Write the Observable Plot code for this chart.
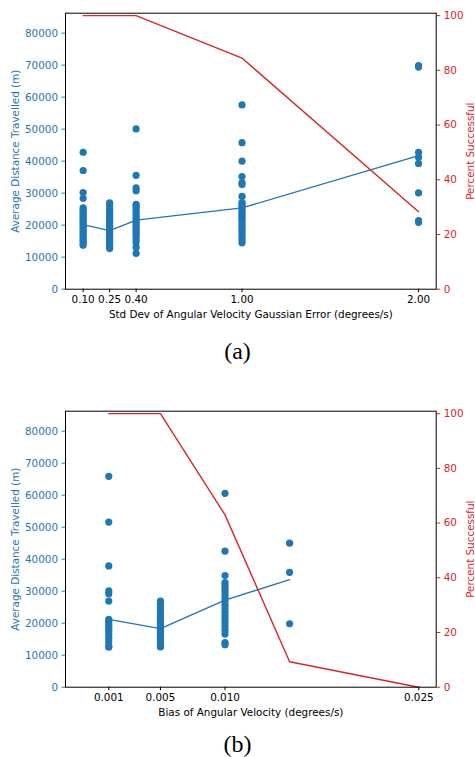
<!DOCTYPE html>
<html>
<head>
<meta charset="utf-8">
<script src="https://cdn.jsdelivr.net/npm/d3@7"></script>
<script src="https://cdn.jsdelivr.net/npm/@observablehq/plot@0.6"></script>
<style>
  html, body { margin: 0; padding: 0; background: #fff; }
  #wrap { position: relative; width: 475px; height: 757px; overflow: hidden; }
  .panel { position: absolute; left: 0; }
  .cap { position: absolute; left: 0; width: 475px; text-align: center;
         font-family: "Liberation Serif", "DejaVu Serif", serif; font-size: 24px; line-height: 18px; height: 18px; }
</style>
</head>
<body>
<div id="wrap">
  <div class="panel" id="pa" style="top:0px"></div>
  <div class="cap" style="top:342px">(a)</div>
  <div class="panel" id="pb" style="top:398px"></div>
  <div class="cap" style="top:735px">(b)</div>
</div>
<script>
// ---------- Panel (a): Std Dev of angular velocity Gaussian error ----------
const stdDevs = [0.10, 0.25, 0.40, 1.00, 2.00];
const stdDevTickLabels = ["0.10", "0.25", "0.40", "1.00", "2.00"];
const distA_010 = [42800, 37100, 30200, 28400, 25400, 24900, 24200, 23600, 23000, 22300, 21800, 21200, 20600, 20000, 19400, 18800, 18200, 17500, 16900, 16300, 15600, 15000, 14300, 13700];
const distA_025 = [27000, 26200, 25100, 24300, 23600, 22900, 22300, 21700, 21100, 20500, 19900, 19300, 18700, 18100, 17500, 16900, 16300, 15700, 15100, 14500, 13900, 13300, 12700];
const distA_040 = [50100, 35600, 31700, 30800, 26500, 25900, 25200, 24300, 23500, 22800, 22100, 21400, 20700, 20000, 19300, 18600, 17900, 17200, 16400, 15400, 14600, 13100, 11200];
const distA_100 = [57600, 45800, 40000, 35200, 33300, 32700, 29000, 27100, 26500, 25900, 25200, 24500, 23800, 23100, 22500, 21800, 21100, 20300, 19500, 18700, 17900, 17000, 16200, 15400, 14500];
const distA_200 = [69900, 69400, 42800, 41200, 39300, 30100, 21400, 20900];
const meanDistA = [20200, 18300, 21600, 25400, 41750];
const pctSuccessA = [100, 100, 100, 84.5, 28.3];

// ---------- Panel (b): Bias of angular velocity ----------
const biases = [0.001, 0.005, 0.010, 0.015, 0.025];
const biasTicks = [0.001, 0.005, 0.010, 0.025];
const distB_001 = [65900, 51600, 37900, 30100, 29200, 26900, 21200, 20500, 19800, 19000, 18200, 17400, 16500, 15300, 14200, 12900, 12500];
const distB_005 = [26900, 25900, 24900, 23900, 23000, 22100, 21300, 20500, 19700, 18900, 18100, 17300, 16500, 15700, 14900, 14100, 13300, 12600];
const distB_010 = [60600, 42500, 34900, 32700, 32000, 31200, 30300, 29400, 28500, 27600, 26700, 25600, 24500, 23400, 22300, 21200, 20100, 19000, 17800, 16600, 13900, 13300];
const distB_015 = [45000, 35900, 19800];
const meanDistB = [21200, 18300, 27200, 33600];
const pctSuccessB = [100, 100, 63, 9.3, 0];

const distTicks = [0, 10000, 20000, 30000, 40000, 50000, 60000, 70000, 80000];
const pctTicks = [0, 20, 40, 60, 80, 100];

const BLUE = "#1f77b4", RED = "#d62728";
const YMAX = 86250, PMAX = 100.9, K = YMAX / PMAX;
const FS = 10.4;

function panel({xDomain, xTicks, xFmt, xLabel, groups, meanX, means, pctX, pcts}) {
  const pts = [];
  groups.forEach(([x, arr]) => arr.forEach(v => pts.push({x, y: v})));
  const meanData = meanX.map((x, i) => ({x, y: means[i]}));
  const pctData = pctX.map((x, i) => ({x, p: pcts[i]}));
  return Plot.plot({
    width: 475, height: 330,
    marginLeft: 65, marginRight: 39.3, marginTop: 12.7, marginBottom: 41.3,
    style: {fontFamily: "DejaVu Sans, sans-serif", fontSize: FS + "px", background: "white", color: "black"},
    x: {domain: xDomain},
    y: {domain: [0, YMAX]},
    marks: [
      Plot.axisY(distTicks, {anchor: "left", tickFormat: "d", tickSize: 3.5, tickPadding: 4, color: BLUE, label: null}),
      Plot.axisY(pctTicks.map(p => p * K), {anchor: "right", tickSize: 3.5, tickPadding: 4, color: RED, label: null,
        tickFormat: d => String(Math.round(d / K))}),
      Plot.axisX(xTicks, {tickFormat: xFmt, tickSize: 3.5, tickPadding: 3, label: null, color: "black"}),
      Plot.dot(pts, {x: "x", y: "y", r: 3.6, fill: BLUE}),
      Plot.line(meanData, {x: "x", y: "y", stroke: BLUE, strokeWidth: 1.4}),
      Plot.line(pctData, {x: "x", y: d => d.p * K, stroke: RED, strokeWidth: 1.4}),
      Plot.frame({stroke: "#000", strokeWidth: 1}),
      Plot.text(["Average Distance Travelled (m)"], {frameAnchor: "left", dx: -50, rotate: -90,
        textAnchor: "middle", lineAnchor: "middle", fill: BLUE, fontSize: FS}),
      Plot.text(["Percent Successful"], {frameAnchor: "right", dx: 34, rotate: -90,
        textAnchor: "middle", lineAnchor: "middle", fill: RED, fontSize: FS}),
      Plot.text([xLabel], {frameAnchor: "bottom", dy: 25.6, textAnchor: "middle", lineAnchor: "middle",
        fill: "black", fontSize: FS})
    ]
  });
}

document.getElementById("pa").append(panel({
  xDomain: [0, 2.1],
  xTicks: stdDevs,
  xFmt: d => stdDevTickLabels[stdDevs.indexOf(d)],
  xLabel: "Std Dev of Angular Velocity Gaussian Error (degrees/s)",
  groups: [[0.10, distA_010], [0.25, distA_025], [0.40, distA_040], [1.00, distA_100], [2.00, distA_200]],
  meanX: stdDevs, means: meanDistA,
  pctX: stdDevs, pcts: pctSuccessA
}));

document.getElementById("pb").append(panel({
  xDomain: [-0.00235, 0.02635],
  xTicks: biasTicks,
  xFmt: d3.format(".3f"),
  xLabel: "Bias of Angular Velocity (degrees/s)",
  groups: [[0.001, distB_001], [0.005, distB_005], [0.010, distB_010], [0.015, distB_015]],
  meanX: biases.slice(0, 4), means: meanDistB,
  pctX: biases, pcts: pctSuccessB
}));
</script>
</body>
</html>
